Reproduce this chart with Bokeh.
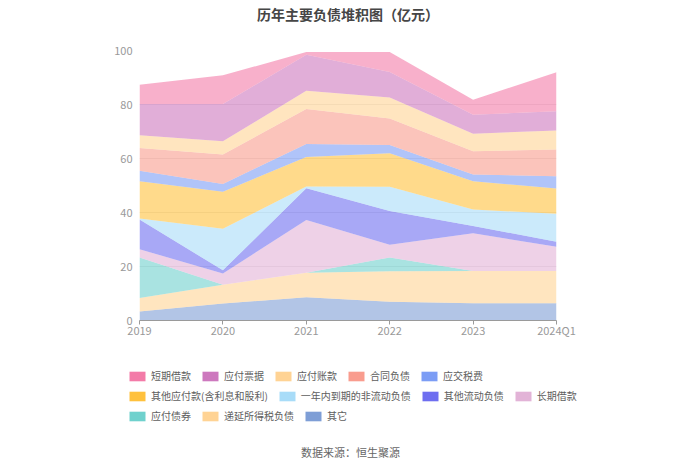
from bokeh.plotting import figure
from bokeh.layouts import column, row
from bokeh.models import (ColumnDataSource, Range1d, FixedTicker, Legend, LegendItem, Label, Title)
from bokeh.embed import file_html
from bokeh.resources import INLINE

categories = ["2019", "2020", "2021", "2022", "2023", "2024Q1"]

# bottom -> top stacking order
qita = [3.3, 6.3, 8.6, 6.9, 6.4, 6.4]                 # 其它
diyan = [5.0, 6.9, 9.1, 11.3, 11.9, 11.9]             # 递延所得税负债
yfzq = [15.0, 0.0, 0.0, 5.1, 0.0, 0.0]                # 应付债券
cqjk = [3.1, 4.2, 19.5, 4.8, 14.0, 9.0]               # 长期借款
qtldfz = [11.0, 1.2, 11.8, 12.5, 2.7, 1.9]            # 其他流动负债
ynndq = [0.4, 15.4, 0.6, 8.9, 6.1, 10.3]              # 一年内到期的非流动负债
qtyfk = [13.8, 13.7, 11.0, 12.4, 10.5, 9.4]           # 其他应付款(含利息和股利)
yjsf = [3.9, 2.9, 4.8, 3.1, 2.5, 4.5]                 # 应交税费
htfz = [8.4, 10.9, 12.9, 9.8, 8.6, 9.9]               # 合同负债
yfzk = [4.7, 4.9, 6.8, 7.8, 6.5, 7.1]                 # 应付账款
yfpj = [11.6, 13.8, 13.3, 9.4, 7.0, 7.1]              # 应付票据
dqjk = [7.1, 10.6, 1.0, 7.4, 5.6, 14.4]               # 短期借款

names = ["其它", "递延所得税负债", "应付债券", "长期借款", "其他流动负债",
         "一年内到期的非流动负债", "其他应付款(含利息和股利)", "应交税费",
         "合同负债", "应付账款", "应付票据", "短期借款"]
series = [qita, diyan, yfzq, cqjk, qtldfz, ynndq, qtyfk, yjsf, htfz, yfzk, yfpj, dqjk]
colors = ["#7E9ED6", "#FFD394", "#6FD1CD", "#E2B3D7", "#6E6EF0",
          "#A8DCF8", "#FFC13D", "#7C9DF5", "#F99C8E", "#FFD394",
          "#CD78BE", "#F37BA8"]

legend_rows = [
    ["短期借款", "应付票据", "应付账款", "合同负债", "应交税费"],
    ["其他应付款(含利息和股利)", "一年内到期的非流动负债", "其他流动负债", "长期借款"],
    ["应付债券", "递延所得税负债", "其它"],
]

xs = list(range(len(categories)))
data = {"x": xs}
for n, s in zip(names, series):
    data[n] = s
source = ColumnDataSource(data)

FONT = "Noto Sans CJK SC"
W = 684
H_MAIN = 350
H_LEG = 108

p = figure(width=W, height=H_MAIN, output_backend="svg", toolbar_location=None,
           x_range=Range1d(0, len(categories) - 1), y_range=Range1d(0, 100),
           min_border_left=139, min_border_right=128, min_border_top=0,
           min_border_bottom=30)
p.title = None
p.outline_line_color = None
p.background_fill_color = "white"
p.border_fill_color = "white"

spacer = Title(text=" ", text_font_size="1px", standoff=23, text_color="white")
p.add_layout(spacer, "above")
main_title = Title(text="历年主要负债堆积图（亿元）", align="center", text_font=FONT,
                   text_font_size="14px", text_font_style="bold",
                   text_color="#464646", standoff=2)
p.add_layout(main_title, "above")

p.varea_stack(stackers=names, x="x", color=colors, source=source, fill_alpha=0.6)

# axes
p.xaxis.ticker = FixedTicker(ticks=xs)
p.xaxis.major_label_overrides = {i: c for i, c in enumerate(categories)}
p.xaxis.axis_line_color = "#9A9A9A"
p.xaxis.major_tick_line_color = "#9A9A9A"
p.xaxis.major_tick_out = 4
p.xaxis.major_tick_in = 0
p.xaxis.minor_tick_line_color = None
p.xaxis.major_label_text_color = "#999999"
p.xaxis.major_label_text_font = FONT
p.xaxis.major_label_text_font_size = "11px"
p.xaxis.major_label_standoff = -3

p.yaxis.ticker = FixedTicker(ticks=[0, 20, 40, 60, 80, 100])
p.yaxis.axis_line_color = None
p.yaxis.major_tick_line_color = None
p.yaxis.minor_tick_line_color = None
p.yaxis.major_label_text_color = "#999999"
p.yaxis.major_label_text_font = FONT
p.yaxis.major_label_text_font_size = "11px"
p.yaxis.major_label_standoff = 1

p.xgrid.grid_line_color = None
p.ygrid.grid_line_color = "#E6E6E6"

# legend / footer figure
lf = figure(width=W, height=H_LEG, output_backend="svg", toolbar_location=None,
            x_range=Range1d(0, len(categories) - 1), y_range=Range1d(0, 100),
            x_axis_type=None, y_axis_type=None,
            min_border_left=0, min_border_right=0, min_border_top=0,
            min_border_bottom=0)
lf.outline_line_color = None
lf.xgrid.grid_line_color = None
lf.ygrid.grid_line_color = None

sw = lf.varea_stack(stackers=names, x="x", color=colors, source=source, fill_alpha=1.0)
swatch = {}
for n, r in zip(names, sw):
    r.visible = False
    swatch[n] = r

bottoms = [75, 55, 35]
for rw, vy in zip(legend_rows, bottoms):
    items = [LegendItem(label=n, renderers=[swatch[n]]) for n in rw]
    lg = Legend(items=items, orientation="horizontal", location=(127, vy),
                padding=0, margin=0, spacing=9, glyph_width=20, glyph_height=12,
                label_height=12, label_standoff=4, label_text_font=FONT,
                label_text_font_size="10px", label_text_color="#5E5E5E",
                border_line_color=None, background_fill_alpha=0,
                inactive_fill_alpha=0.0, click_policy="none")
    lf.add_layout(lg, "center")

footer = Label(x=350, y=7, x_units="screen", y_units="screen",
               text="数据来源：恒生聚源", text_align="center",
               text_baseline="middle", text_font=FONT, text_font_size="11px",
               text_color="#666666")
lf.add_layout(footer)

open("out.html", "w").write(file_html(column(p, row(lf)), INLINE))
